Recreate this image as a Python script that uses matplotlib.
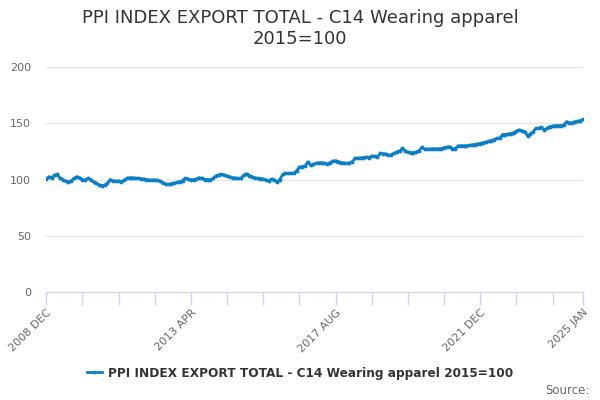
import matplotlib
matplotlib.use("Agg")
import matplotlib.pyplot as plt

# monthly index values, 2008 DEC .. 2025 JAN
values = [
    100.4, 102.5, 101.5, 104.0, 104.5, 101.0, 100.0, 98.5, 97.5, 99.0, 101.0, 102.5,
    101.5, 100.0, 99.5, 101.0, 100.0, 98.0, 96.5, 95.5, 94.5, 95.0, 96.5, 100.0,
    98.7, 98.5, 98.7, 98.0, 99.5, 101.0, 101.6, 101.5, 101.2, 101.0, 100.8, 100.4,
    100.0, 99.6, 99.5, 99.6, 99.2, 98.5, 97.0, 96.0, 95.7, 96.3, 96.8, 97.5,
    98.0, 99.0, 101.0, 100.5, 99.6, 100.0, 100.4, 101.6, 101.0, 100.0, 100.0, 99.6,
    101.0, 103.2, 104.0, 104.6, 104.0, 103.2, 102.5, 101.6, 101.3, 101.0, 101.0, 104.0,
    105.0, 103.5, 102.5, 101.5, 101.0, 100.8, 100.5, 99.5, 99.0, 100.4, 99.5, 98.0,
    100.0, 104.6, 105.5, 105.5, 105.5, 105.5, 108.0, 110.8, 111.5, 112.0, 115.5, 112.6,
    113.5, 114.4, 114.8, 114.9, 114.5, 113.8, 115.0, 116.4, 116.7, 116.0, 115.0, 114.8,
    114.4, 114.6, 115.8, 118.8, 119.0, 119.0, 119.5, 120.0, 119.5, 120.9, 120.5, 119.7,
    123.3, 123.0, 122.7, 121.4, 122.0, 123.3, 124.5, 125.3, 127.7, 125.6, 124.5, 123.9,
    123.9, 124.5, 125.6, 128.6, 126.9, 127.0, 127.2, 127.2, 127.4, 127.2, 127.5, 128.3,
    128.8, 129.2, 127.2, 127.5, 129.8, 130.0, 130.0, 130.0, 130.3, 130.7, 131.0, 131.6,
    132.0, 132.7, 133.5, 134.0, 134.5, 135.5, 136.6, 136.6, 139.9, 140.0, 140.4, 140.8,
    141.6, 143.0, 144.0, 143.5, 142.5, 138.7, 140.5, 142.5, 145.5, 145.5, 146.4, 144.0,
    145.5, 147.0, 147.5, 147.9, 147.9, 147.9, 148.4, 151.4, 150.0, 150.5, 151.4, 151.8,
    152.3, 153.4,
]
series_name = "PPI INDEX EXPORT TOTAL - C14 Wearing apparel 2015=100"
label_months = [0, 52, 104, 156, 193]
label_texts = ["2008 DEC", "2013 APR", "2017 AUG", "2021 DEC", "2025 JAN"]
y_ticks = [0, 50, 100, 150, 200]

line_color = "#0a7fc8"
axis_color = "#ccd6eb"
text_grey = "#666666"

fig = plt.figure(figsize=(6, 4), dpi=100)
ax = fig.add_axes([0.077, 0.27, 0.895, 0.5625])

x = list(range(len(values)))
ax.plot(x, values, color=line_color, lw=2, marker="o", ms=2.8,
        markeredgewidth=0, zorder=3)

ax.set_xlim(0, len(values) - 1)
ax.set_ylim(0, 200)
ax.set_yticks(y_ticks)
ax.set_yticklabels([str(v) for v in y_ticks], color=text_grey, fontsize=8)
ax.tick_params(axis="y", length=0, pad=11)
ax.grid(axis="y", color="#e6e6e6", lw=1)
ax.set_axisbelow(True)

minor = list(range(0, len(values), 13)) + [len(values) - 1]
ax.set_xticks(minor, minor=True)
ax.set_xticks(label_months)
ax.set_xticklabels(label_texts, rotation=45, ha="right", rotation_mode="anchor",
                   color=text_grey, fontsize=8)
ax.tick_params(axis="x", which="both", length=9, color=axis_color, width=1, pad=2)

for s in ["top", "right", "left"]:
    ax.spines[s].set_visible(False)
ax.spines["bottom"].set_color(axis_color)

fig.suptitle("PPI INDEX EXPORT TOTAL - C14 Wearing apparel\n2015=100",
             y=0.978, fontsize=13, color="#333333", linespacing=1.25)

leg = fig.legend([ax.lines[0]], [series_name], loc="center", bbox_to_anchor=(0.5, 0.067),
                 frameon=False, fontsize=8.7, handlelength=1.3, handletextpad=0.5)
for t in leg.get_texts():
    t.set_color("#333333")
    t.set_fontweight("bold")

fig.text(0.982, 0.025, "Source:", ha="right", va="center", color=text_grey, fontsize=8.5)

fig.savefig("out.png", dpi=100)
